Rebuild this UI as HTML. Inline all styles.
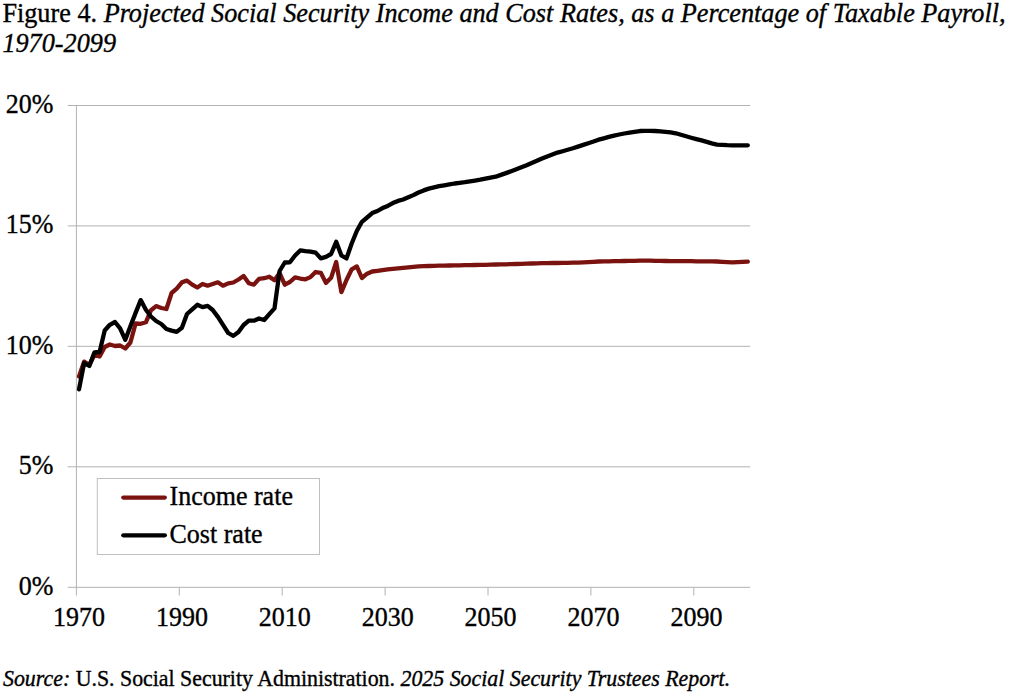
<!DOCTYPE html>
<html><head><meta charset="utf-8"><title>Figure 4</title>
<style>
html,body{margin:0;padding:0;background:#fff;}
body{width:1024px;height:694px;position:relative;overflow:hidden;font-family:"Liberation Serif","Times New Roman",serif;color:#000;-webkit-text-stroke:0.35px #000;}
.t{position:absolute;left:2.4px;font-size:26.22px;line-height:30px;white-space:nowrap;transform-origin:0 14.5px;transform:translateY(-1.3px) scaleY(1.03);}
.yl{position:absolute;left:0;width:53.5px;text-align:right;font-size:26px;line-height:26px;white-space:nowrap;transform-origin:100% 12.6px;transform:translateY(-0.1px) scaleY(1.05);}
.xl{position:absolute;top:602px;width:80px;text-align:center;font-size:26px;line-height:26px;transform-origin:50% 12.5px;transform:translateY(2.5px) scaleY(1.05);}
.lg{position:absolute;left:169.5px;font-size:26px;line-height:26px;white-space:nowrap;transform-origin:0 12.5px;transform:translateY(-0.4px) scaleY(1.02);}
.src{position:absolute;left:3px;top:667px;font-size:21.87px;line-height:26px;white-space:nowrap;transform-origin:0 13px;transform:translateY(-1.0px) scaleY(1.06);}
</style></head><body>
<svg width="1024" height="694" viewBox="0 0 1024 694" style="position:absolute;left:0;top:0">
<line x1="67.7" y1="105.5" x2="750.2" y2="105.5" stroke="#b2b2b2" stroke-width="1"/>
<line x1="67.7" y1="225.9" x2="750.2" y2="225.9" stroke="#b2b2b2" stroke-width="1"/>
<line x1="67.7" y1="346.3" x2="750.2" y2="346.3" stroke="#b2b2b2" stroke-width="1"/>
<line x1="67.7" y1="466.8" x2="750.2" y2="466.8" stroke="#b2b2b2" stroke-width="1"/>
<line x1="67.7" y1="587.3" x2="750.2" y2="587.3" stroke="#b2b2b2" stroke-width="1"/>
<line x1="76.4" y1="105" x2="76.4" y2="595.5" stroke="#b2b2b2" stroke-width="1"/>
<line x1="179.3" y1="587.3" x2="179.3" y2="595.5" stroke="#b2b2b2" stroke-width="1"/>
<line x1="282.2" y1="587.3" x2="282.2" y2="595.5" stroke="#b2b2b2" stroke-width="1"/>
<line x1="385.1" y1="587.3" x2="385.1" y2="595.5" stroke="#b2b2b2" stroke-width="1"/>
<line x1="488.0" y1="587.3" x2="488.0" y2="595.5" stroke="#b2b2b2" stroke-width="1"/>
<line x1="590.9" y1="587.3" x2="590.9" y2="595.5" stroke="#b2b2b2" stroke-width="1"/>
<line x1="693.8" y1="587.3" x2="693.8" y2="595.5" stroke="#b2b2b2" stroke-width="1"/>
<polyline fill="none" stroke="#7a130f" stroke-width="4.3" stroke-linejoin="round" stroke-linecap="round" points="79.0,376.5 84.1,361.6 89.3,365.0 94.4,355.0 99.6,356.5 104.7,347.0 109.8,344.5 115.0,346.0 120.1,345.5 125.3,348.5 130.4,342.5 135.6,323.5 140.7,323.8 145.9,322.3 151.0,310.2 156.1,306.1 161.3,308.0 166.4,309.0 171.6,293.0 176.7,288.6 181.9,282.3 187.0,280.6 192.2,284.6 197.3,287.5 202.5,284.0 207.6,285.7 212.7,284.0 217.9,282.3 223.0,285.7 228.2,283.4 233.3,282.5 238.5,279.5 243.6,276.0 248.8,283.2 253.9,284.7 259.0,278.9 264.2,278.2 269.3,276.7 274.5,280.3 279.6,273.1 284.8,284.7 289.9,282.0 295.1,277.3 300.2,278.5 305.4,279.3 310.5,277.1 315.6,272.0 320.8,272.8 325.9,282.9 331.1,277.8 336.2,262.0 341.4,292.2 346.5,280.0 351.7,269.3 356.8,266.4 361.9,278.0 367.1,273.7 372.2,271.5 377.4,270.8 382.5,270.1 387.7,269.3 392.8,268.8 398.0,268.3 403.1,267.8 408.3,267.3 413.4,266.8 418.5,266.4 423.7,266.2 428.8,266.0 434.0,265.8 439.1,265.7 444.3,265.6 449.4,265.5 454.6,265.4 459.7,265.3 464.8,265.2 470.0,265.1 475.1,265.0 480.3,264.9 485.4,264.8 490.6,264.6 495.7,264.5 500.9,264.4 506.0,264.3 511.2,264.1 516.3,264.0 521.4,263.8 526.6,263.6 531.7,263.5 536.9,263.3 542.0,263.2 547.2,263.1 552.3,263.0 557.5,263.0 562.6,262.9 567.7,262.8 572.9,262.7 578.0,262.6 583.2,262.3 588.3,262.1 593.5,261.8 598.6,261.5 603.8,261.4 608.9,261.3 614.1,261.2 619.2,261.1 624.3,261.0 629.5,260.9 634.6,260.8 639.8,260.7 644.9,260.6 650.1,260.7 655.2,260.8 660.4,260.9 665.5,261.0 670.6,261.1 675.8,261.1 680.9,261.2 686.1,261.2 691.2,261.2 696.4,261.3 701.5,261.3 706.7,261.3 711.8,261.4 717.0,261.5 722.1,261.8 727.2,262.1 732.4,262.4 737.5,262.2 742.7,261.9 747.8,261.6"/>
<polyline fill="none" stroke="#000" stroke-width="4.3" stroke-linejoin="round" stroke-linecap="round" points="79.0,389.3 84.1,363.0 89.3,366.0 94.4,352.5 99.6,352.0 104.7,330.5 109.8,324.8 115.0,322.0 120.1,328.3 125.3,339.8 130.4,326.3 135.6,312.9 140.7,300.1 145.9,309.7 151.0,316.5 156.1,321.0 161.3,324.0 166.4,329.0 171.6,330.6 176.7,331.9 181.9,327.8 187.0,314.0 192.2,309.4 197.3,304.8 202.5,307.1 207.6,305.9 212.7,310.0 217.9,316.9 223.0,324.9 228.2,333.0 233.3,335.9 238.5,332.0 243.6,325.0 248.8,320.7 253.9,320.7 259.0,318.5 264.2,320.0 269.3,314.2 274.5,308.4 279.6,271.0 284.8,262.5 289.9,262.3 295.1,255.5 300.2,250.4 305.4,251.2 310.5,251.6 315.6,252.6 320.8,258.4 325.9,256.9 331.1,254.0 336.2,241.8 341.4,255.5 346.5,258.4 351.7,243.5 356.8,231.0 361.9,221.8 367.1,217.5 372.2,213.1 377.4,211.0 382.5,208.1 387.7,205.9 392.8,203.1 398.0,200.9 403.1,199.5 408.3,197.3 413.4,195.1 418.5,192.5 423.7,190.4 428.8,188.6 434.0,187.4 439.1,186.2 444.3,185.3 449.4,184.4 454.6,183.5 459.7,182.8 464.8,182.2 470.0,181.4 475.1,180.6 480.3,179.7 485.4,178.7 490.6,177.7 495.7,176.7 500.9,174.9 506.0,173.1 511.2,171.2 516.3,169.3 521.4,167.3 526.6,165.2 531.7,163.0 536.9,160.8 542.0,158.5 547.2,156.4 552.3,154.5 557.5,152.6 562.6,151.2 567.7,149.8 572.9,148.3 578.0,146.6 583.2,144.9 588.3,143.2 593.5,141.5 598.6,139.7 603.8,138.3 608.9,136.9 614.1,135.6 619.2,134.5 624.3,133.5 629.5,132.6 634.6,131.8 639.8,131.0 644.9,130.9 650.1,130.8 655.2,131.0 660.4,131.4 665.5,131.8 670.6,132.4 675.8,133.3 680.9,134.8 686.1,136.3 691.2,137.7 696.4,139.1 701.5,140.4 706.7,141.9 711.8,143.4 717.0,144.7 722.1,144.9 727.2,145.2 732.4,145.3 737.5,145.3 742.7,145.3 747.8,145.3"/>
<rect x="97.3" y="478.5" width="222.2" height="76" fill="#fff" stroke="#bfbfbf" stroke-width="1"/>
<line x1="123.3" y1="497.6" x2="164.8" y2="497.6" stroke="#7a130f" stroke-width="4.3" stroke-linecap="round"/>
<line x1="123.3" y1="535.3" x2="164.8" y2="535.3" stroke="#000" stroke-width="4.3" stroke-linecap="round"/>
</svg>
<div class="t" style="top:0px">Figure 4. <i>Projected Social Security Income and Cost Rates, as a Percentage of Taxable Payroll,</i></div>
<div class="t" style="top:30px"><i>1970-2099</i></div>
<div class="yl" style="top:91.9px">20%</div>
<div class="yl" style="top:212.3px">15%</div>
<div class="yl" style="top:332.7px">10%</div>
<div class="yl" style="top:453.2px">5%</div>
<div class="yl" style="top:573.7px">0%</div>
<div class="xl" style="left:39.0px">1970</div>
<div class="xl" style="left:141.9px">1990</div>
<div class="xl" style="left:244.8px">2010</div>
<div class="xl" style="left:347.7px">2030</div>
<div class="xl" style="left:450.6px">2050</div>
<div class="xl" style="left:553.5px">2070</div>
<div class="xl" style="left:656.4px">2090</div>
<div class="lg" style="top:484px">Income rate</div>
<div class="lg" style="top:522px">Cost rate</div>
<div class="src"><i>Source:</i> U.S. Social Security Administration. <i>2025 Social Security Trustees Report.</i></div>
</body></html>
